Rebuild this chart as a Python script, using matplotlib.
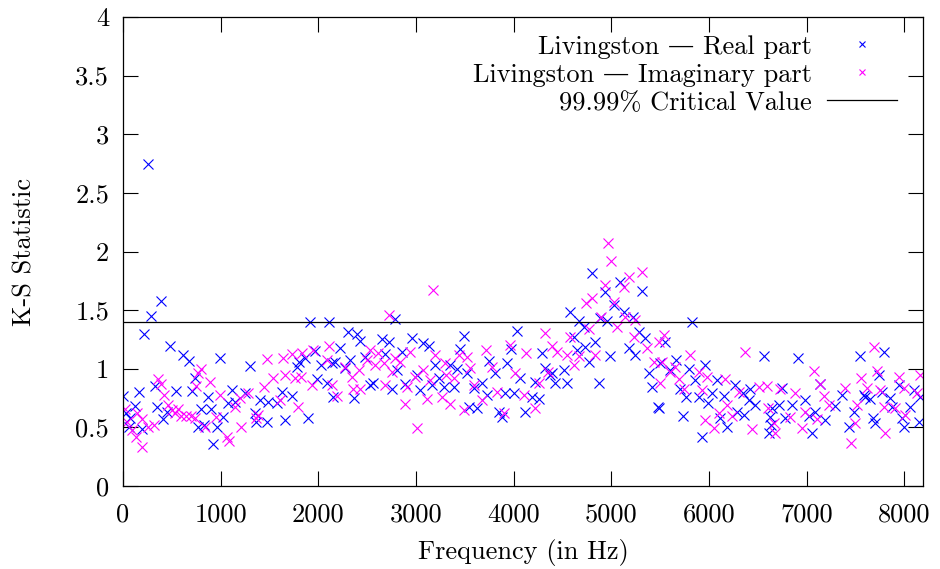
import matplotlib
matplotlib.use("Agg")
import matplotlib.pyplot as plt
import warnings
warnings.filterwarnings("ignore")

plt.rcParams['font.family'] = ['cmr10', 'DejaVu Serif']

# ---- data ----
real_freq = [3, 31, 60, 75, 126, 160, 191, 218, 253, 287, 328, 351, 386, 413, 448, 485,
             543, 611, 673, 707, 738, 768, 796, 830, 868, 902, 925, 960, 994,
             1028, 1080, 1121, 1150, 1250, 1298, 1353, 1360, 1404, 1472, 1489, 1575, 1626,
             1660, 1728, 1780, 1800, 1865, 1892, 1916, 1961, 1985, 2029, 2087, 2111, 2138,
             2150, 2172, 2224, 2275, 2309, 2326, 2370, 2401, 2429, 2480, 2531, 2565, 2651,
             2685, 2719, 2753, 2787, 2804, 2855, 2890, 2958, 3009, 3043, 3077, 3135, 3163,
             3197, 3231, 3282, 3351, 3385, 3419, 3453, 3487, 3521, 3538, 3590, 3624, 3675,
             3726, 3743, 3812, 3846, 3880, 3914, 3931, 3976, 3999, 4034, 4068, 4119, 4187,
             4222, 4256, 4290, 4324, 4375, 4392, 4426, 4512, 4546, 4580, 4614, 4648, 4665,
             4717, 4734, 4768, 4802, 4836, 4870, 4887, 4932, 4956, 4990, 5024, 5093, 5127,
             5178, 5219, 5246, 5280, 5314, 5348, 5383, 5417, 5485, 5502, 5478, 5553, 5605,
             5663, 5707, 5734, 5765, 5793, 5827, 5861, 5895, 5929, 5956, 5990, 6032, 6083,
             6117, 6151, 6185, 6271, 6290, 6346, 6360, 6407, 6424, 6475, 6561, 6612, 6629,
             6640, 6646, 6715, 6749, 6783, 6851, 6913, 6981, 7022, 7056, 7083, 7141, 7193,
             7295, 7363, 7432, 7483, 7551, 7585, 7603, 7653, 7681, 7705, 7746, 7773, 7790,
             7858, 7875, 7944, 7978, 7995, 8063, 8097, 8150, 8166]
real_ks = [0.77, 0.625, 0.50, 0.58, 0.685, 0.80, 0.49, 1.30, 2.746, 1.45, 0.85, 0.67, 1.58, 0.57, 0.63, 1.19,
           0.81, 1.12, 1.07, 0.81, 0.92, 0.505, 0.66, 0.52, 0.76, 0.66, 0.36, 0.505, 1.09,
           0.592, 0.705, 0.82, 0.72, 0.79, 1.024, 0.626, 0.549, 0.734, 0.549, 0.72, 0.705, 0.805,
           0.563, 0.768, 1.018, 1.06, 1.09, 0.577, 1.396, 1.15, 0.91, 1.03, 0.876, 1.402, 1.047,
           0.762, 1.061, 1.175, 1.004, 1.317, 1.075, 0.748, 1.297, 1.24, 1.103, 0.862, 0.876, 1.251,
           1.126, 1.231, 0.825, 1.422, 0.99, 1.146, 0.87, 1.26, 0.947, 0.82, 1.217, 1.194, 0.862,
           1.032, 0.919, 0.847, 1.032, 0.847, 0.994, 1.165, 1.279, 0.96, 0.676, 0.832, 0.662, 0.875,
           0.776, 1.068, 0.966, 0.633, 0.591, 0.796, 1.051, 1.165, 0.79, 1.322, 0.918, 0.633, 0.761,
           0.89, 0.739, 1.137, 1.003, 0.946, 0.961, 0.876, 0.99, 0.882, 1.487, 1.268, 1.16, 1.41,
           1.359, 1.189, 1.061, 1.82, 1.231, 0.882, 1.43, 1.658, 1.41, 1.109, 1.544, 1.743, 1.487,
           1.174, 1.444, 1.118, 1.316, 1.663, 1.26, 0.961, 0.848, 0.663, 1.047, 0.677, 1.231, 0.99,
           1.075, 0.825, 0.60, 0.756, 0.995, 1.402, 0.904, 0.762, 0.421, 1.032, 0.705, 0.791, 0.904,
           0.577, 0.768, 0.506, 0.862, 0.634, 0.796, 0.606, 0.734, 0.825, 0.691, 1.112, 0.449, 0.592,
           0.52, 0.663, 0.691, 0.833, 0.577, 0.691, 1.089, 0.734, 0.597, 0.449, 0.634, 0.867, 0.563,
           0.683, 0.776, 0.506, 0.634, 1.112, 0.776, 0.756, 0.739, 0.577, 0.535, 0.947, 0.805, 1.146,
           0.748, 0.677, 0.862, 0.577, 0.50, 0.677, 0.819, 0.548, 0.762]

imag_freq = [20, 44, 89, 133, 147, 193, 195, 259, 321, 355, 385, 420, 464, 500, 530, 560, 590,
             640, 700, 740, 747, 770, 796, 840, 895, 950, 994, 1063, 1086, 1148, 1199, 1209,
             1284, 1360, 1387, 1448, 1472, 1541, 1609, 1636, 1660, 1735, 1763, 1797, 1824, 1838,
             1933, 1950, 2087, 2114, 2138, 2190, 2275, 2343, 2360, 2412, 2429, 2497, 2531, 2582,
             2616, 2668, 2685, 2719, 2753, 2787, 2838, 2883, 2907, 2941, 2992, 3009, 3077, 3111,
             3146, 3170, 3197, 3265, 3299, 3310, 3351, 3385, 3436, 3487, 3521, 3555, 3590, 3675,
             3716, 3777, 3829, 3897, 3965, 4016, 4102, 4126, 4222, 4256, 4324, 4350, 4392, 4444,
             4546, 4580, 4614, 4665, 4741, 4768, 4802, 4836, 4898, 4932, 4963, 4997, 5024, 5058,
             5127, 5143, 5185, 5229, 5246, 5314, 5366, 5434, 5485, 5502, 5519, 5536, 5605, 5656,
             5690, 5741, 5810, 5895, 5929, 5963, 5980, 6049, 6100, 6168, 6185, 6237, 6305, 6373,
             6441, 6510, 6595, 6600, 6663, 6680, 6732, 6834, 6885, 6954, 6988, 7073, 7107, 7141,
             7176, 7227, 7398, 7459, 7500, 7517, 7561, 7619, 7688, 7722, 7756, 7790, 7807, 7910,
             7944, 7995, 8010, 8131, 8166]
imag_ks = [0.654, 0.55, 0.48, 0.42, 0.625, 0.57, 0.335, 0.505, 0.52, 0.91, 0.87, 0.776, 0.69, 0.65, 0.62, 0.66, 0.60,
           0.60, 0.60, 0.58, 0.85, 0.96, 0.995, 0.505, 0.89, 0.59, 0.776, 0.421, 0.38, 0.677, 0.748, 0.506,
           0.79, 0.58, 0.606, 0.848, 1.08, 0.919, 0.734, 1.09, 0.947, 1.13, 0.919, 0.671, 0.927, 1.137,
           0.862, 1.16, 1.075, 1.194, 0.862, 0.768, 1.018, 0.927, 0.825, 0.99, 0.825, 1.075, 1.16, 1.032,
           1.137, 1.047, 0.862, 1.459, 0.976, 1.09, 1.061, 0.70, 0.842, 1.146, 0.927, 0.492, 0.99, 0.74,
           0.904, 1.672, 1.118, 0.762, 1.046, 0.946, 0.699, 0.918, 1.117, 0.648, 1.097, 1.003, 0.861, 0.733,
           1.159, 1.017, 0.804, 0.619, 1.202, 0.96, 0.776, 1.137, 0.662, 0.881, 1.307, 0.976, 1.194, 1.146,
           1.118, 1.274, 1.032, 1.109, 1.558, 1.336, 1.60, 1.118, 1.439, 1.715, 2.076, 1.922, 1.572, 1.359,
           1.70, 1.439, 1.78, 1.274, 1.416, 1.828, 1.174, 1.061, 1.231, 0.876, 1.061, 1.288, 0.975, 1.018,
           0.91, 0.825, 1.118, 0.975, 0.819, 0.563, 0.927, 0.492, 0.62, 0.91, 0.691, 0.597, 0.805, 1.146,
           0.484, 0.848, 0.853, 0.663, 0.535, 0.449, 0.825, 0.586, 0.796, 0.492, 0.634, 0.981, 0.569, 0.867,
           0.768, 0.691, 0.839, 0.364, 0.535, 0.691, 0.919, 0.833, 1.183, 0.981, 0.819, 0.677, 0.455, 0.663,
           0.927, 0.833, 0.606, 0.79, 0.947]

critical_value = 1.40

x_ticks = [0, 1000, 2000, 3000, 4000, 5000, 6000, 7000, 8000]
x_tick_labels = ["0", "1000", "2000", "3000", "4000", "5000", "6000", "7000", "8000"]
y_ticks = [0, 0.5, 1, 1.5, 2, 2.5, 3, 3.5, 4]
y_tick_labels = ["0", "0.5", "1", "1.5", "2", "2.5", "3", "3.5", "4"]

labels = ["Livingston — Real part", "Livingston — Imaginary part", "99.99% Critical Value"]

# ---- figure ----
W, H = 940, 569
fig = plt.figure(figsize=(W / 100, H / 100), dpi=100)
L, R, T, B = 123, 923, 17, 486
ax = fig.add_axes([L / W, 1 - B / H, (R - L) / W, (B - T) / H])

fs = 19
ms = 7
mew = 0.8
ax.plot(real_freq, real_ks, linestyle='none', marker='x', color='#0000ff',
        markersize=ms, markeredgewidth=mew, label=labels[0])
ax.plot(imag_freq, imag_ks, linestyle='none', marker='x', color='#ff00ff',
        markersize=ms, markeredgewidth=mew, label=labels[1])
ax.axhline(critical_value, color='black', linewidth=0.9, label=labels[2])

ax.set_xlim(0, 8192)
ax.set_ylim(0, 4)
ax.set_xticks(x_ticks)
ax.set_xticklabels(x_tick_labels)
ax.set_yticks(y_ticks)
ax.set_yticklabels(y_tick_labels)
ax.tick_params(direction='in', length=11, width=0.8, top=True, right=True,
               labelsize=fs)
ax.tick_params(axis='x', pad=12)
ax.tick_params(axis='y', pad=10)
for s in ax.spines.values():
    s.set_linewidth(0.9)

ax.set_xlabel("Frequency (in Hz)", fontsize=fs)
ax.set_ylabel("K-S Statistic", fontsize=fs)
ax.xaxis.set_label_coords(0.5, -0.113)
ax.yaxis.set_label_coords(-0.108, 0.5)

leg = ax.legend(loc='upper right', bbox_to_anchor=((897 - L) / (R - L), (B - 35) / (B - T)),
                frameon=False, markerfirst=False, fontsize=fs, borderpad=0,
                borderaxespad=0, handlelength=2.65, handletextpad=0.57,
                labelspacing=0.16, markerscale=0.7)

fig.savefig("out.png", dpi=100)
